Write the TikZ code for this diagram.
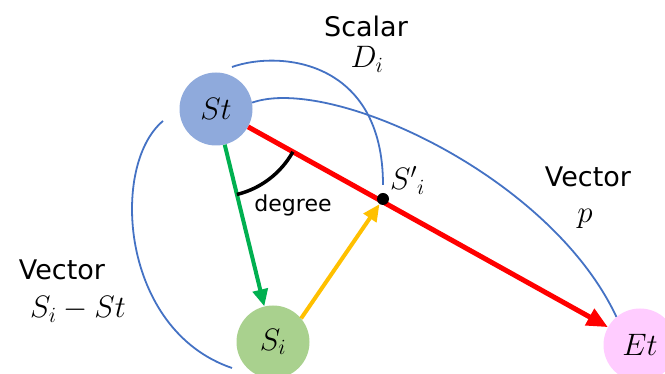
\RequirePackage{fix-cm}
\documentclass[tikz,border=0pt]{standalone}
\usepackage{fontspec}
\setsansfont{DejaVu Sans}
\usepackage{tikz}
\usetikzlibrary{arrows.meta,angles}

\definecolor{stblue}{HTML}{8FAADC}
\definecolor{sigreen}{HTML}{A9D18E}
\definecolor{etpink}{HTML}{FFCCFF}
\definecolor{arcblue}{HTML}{4472C4}
\definecolor{vecgreen}{HTML}{00B050}
\definecolor{vecyellow}{HTML}{FFC000}

\begin{document}
\begin{tikzpicture}[
    x=1pt, y=1pt,
    point/.style={circle, minimum size=73pt, inner sep=0pt, font=\fontsize{31}{34}\selectfont},
    dot/.style={circle, fill=black, minimum size=12pt, inner sep=0pt},
    lbl/.style={font=\sffamily\fontsize{27}{32}\selectfont, inner sep=0pt},
    mlbl/.style={font=\fontsize{31}{34}\selectfont, inner sep=0pt},
    brace/.style={draw=arcblue, line width=1.8pt},
    edge/.style={line width=4pt}
]
\clip (0,0) rectangle (665,374);

\node[point, fill=stblue] (St) at (216,265) {$St$};
\node[point, fill=sigreen] (Si) at (273,32) {$S_i$};
\node[point, fill=etpink] (Et) at (640,29) {$Et$};

% braces
\coordinate (scalarA) at (232,307);
\coordinate (vecA) at (163,253);
\coordinate (vecB) at (232,6);
\draw[brace] (vecA) .. controls (110,209) and (120,44) .. (vecB);
\draw[brace] (St.10) .. controls (330,299) and (550,199) .. (Et.130);

\draw[edge, red, line width=5pt, -{Triangle[length=21pt,width=18pt]}] (St) -- (Et);
\draw[edge, vecgreen, -{Triangle[length=17pt,width=15pt]}] (St) -- (Si);
\pic[draw, line width=3.5pt, angle radius=88pt] {angle=Si--St--Et};

\node[dot] (Sp) at (383,175) {};
\draw[brace, shorten >=8pt] (scalarA) .. controls (280,324) and (383,314) .. (Sp);
\draw[edge, vecyellow, -{Triangle[length=17pt,width=15pt]}] (Si.40) -- (Sp);

\node[lbl, anchor=base] (scalar) at (366,337) {Scalar};
\node[mlbl, anchor=base] (di) at (367,306) {$D_i$};
\node[lbl, anchor=base] (vecp) at (588,187) {Vector};
\node[mlbl, anchor=base] (p) at (585,151) {$p$};
\node[lbl, anchor=base] (vecs) at (62,94) {Vector};
\node[mlbl, anchor=base] (sdiff) at (78,56) {$S_i - St$};
\node[lbl, font=\sffamily\fontsize{22}{26}\selectfont, anchor=base] (deg) at (293,162) {degree};
\node[mlbl, anchor=base west] (splbl) at (390,184) {${S'}_i$};
\end{tikzpicture}
\end{document}
